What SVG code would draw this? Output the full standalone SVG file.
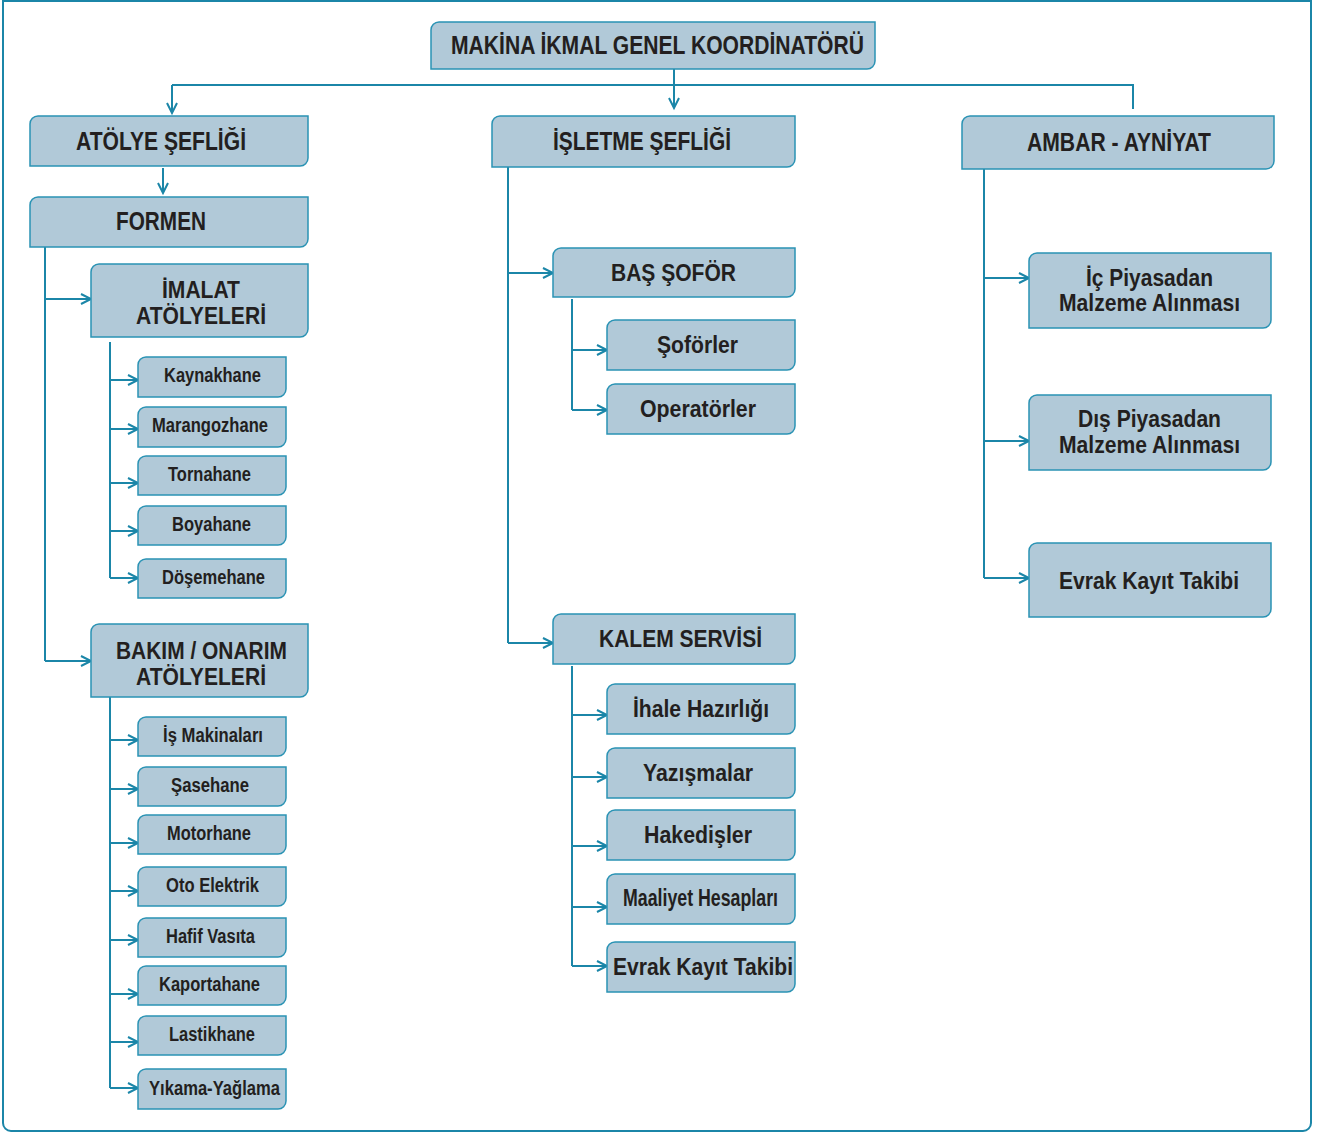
<svg xmlns="http://www.w3.org/2000/svg" width="1326" height="1133" viewBox="0 0 1326 1133">
<defs>
<style>
.box{fill:#b1c9d8;stroke:#2a93b4;stroke-width:1.5}
.ln{fill:none;stroke:#1b86a8;stroke-width:2}
.arr{marker-end:url(#ah)}
text{font-family:"Liberation Sans Narrow","Arial Narrow","Liberation Sans",sans-serif;font-weight:bold;fill:#231f20}
.t1{font-size:25px}
.t2{font-size:24px}
.t3{font-size:20px}
</style>
<marker id="ah" markerUnits="userSpaceOnUse" markerWidth="14" markerHeight="12" refX="11" refY="6" orient="auto">
<path d="M1,1 L11,6 L1,11" fill="none" stroke="#1b86a8" stroke-width="2"/>
</marker>
</defs>
<rect x="0" y="0" width="1326" height="1133" fill="#fff"/>
<path d="M3,1 H1311 V1123 A8,8 0 0 1 1303,1131 H11 A8,8 0 0 1 3,1123 Z" fill="none" stroke="#1b86a8" stroke-width="2"/>

<g id="connectors">
<path class="ln" d="M172,85 H1133 V109"/>
<path class="ln arr" d="M172,85 V113"/>
<path class="ln arr" d="M674,69 V108"/>
<path class="ln arr" d="M163,168 V193"/>
<path class="ln" d="M45,247 V661"/>
<path class="ln arr" d="M45,299 H91"/>
<path class="ln arr" d="M45,661 H91"/>
<path class="ln" d="M110,342 V578"/>
<path class="ln arr" d="M110,380 H138"/>
<path class="ln arr" d="M110,429 H138"/>
<path class="ln arr" d="M110,483 H138"/>
<path class="ln arr" d="M110,531 H138"/>
<path class="ln arr" d="M110,578 H138"/>
<path class="ln" d="M110,697 V1088"/>
<path class="ln arr" d="M110,740 H138"/>
<path class="ln arr" d="M110,789 H138"/>
<path class="ln arr" d="M110,843 H138"/>
<path class="ln arr" d="M110,891 H138"/>
<path class="ln arr" d="M110,940 H138"/>
<path class="ln arr" d="M110,994 H138"/>
<path class="ln arr" d="M110,1042 H138"/>
<path class="ln arr" d="M110,1088 H138"/>
<path class="ln" d="M508,167 V643"/>
<path class="ln arr" d="M508,273 H553"/>
<path class="ln arr" d="M508,643 H553"/>
<path class="ln" d="M572,299 V410"/>
<path class="ln arr" d="M572,350 H607"/>
<path class="ln arr" d="M572,410 H607"/>
<path class="ln" d="M572,666 V966"/>
<path class="ln arr" d="M572,715 H607"/>
<path class="ln arr" d="M572,777 H607"/>
<path class="ln arr" d="M572,846 H607"/>
<path class="ln arr" d="M572,907 H607"/>
<path class="ln arr" d="M572,966 H607"/>
<path class="ln" d="M984,169 V578"/>
<path class="ln arr" d="M984,278 H1029"/>
<path class="ln arr" d="M984,441 H1029"/>
<path class="ln arr" d="M984,578 H1029"/>
</g>

<g id="n-top"><path class="box" d="M431,30 A8,8 0 0 1 439,22 H875 V61 A8,8 0 0 1 867,69 H431 Z"/><text class="t1" x="451" y="54" textLength="413" lengthAdjust="spacingAndGlyphs">MAKİNA İKMAL GENEL KOORDİNATÖRÜ</text></g>

<g id="n-atolye"><path class="box" d="M30,124 A8,8 0 0 1 38,116 H308 V158 A8,8 0 0 1 300,166 H30 Z"/><text class="t1" x="76" y="150" textLength="170" lengthAdjust="spacingAndGlyphs">ATÖLYE ŞEFLİĞİ</text></g>
<g id="n-formen"><path class="box" d="M30,205 A8,8 0 0 1 38,197 H308 V239 A8,8 0 0 1 300,247 H30 Z"/><text class="t1" x="116" y="230" textLength="90" lengthAdjust="spacingAndGlyphs">FORMEN</text></g>
<g id="n-imalat"><path class="box" d="M91,272 A8,8 0 0 1 99,264 H308 V329 A8,8 0 0 1 300,337 H91 Z"/><text class="t2" x="162" y="298" textLength="78" lengthAdjust="spacingAndGlyphs">İMALAT</text><text class="t2" x="136" y="324" textLength="130" lengthAdjust="spacingAndGlyphs">ATÖLYELERİ</text></g>

<g id="n-kaynakhane"><path class="box" d="M138,365 A8,8 0 0 1 146,357 H286 V389 A8,8 0 0 1 278,397 H138 Z"/><text class="t3" x="164" y="382" textLength="97" lengthAdjust="spacingAndGlyphs">Kaynakhane</text></g>
<g id="n-marangozhane"><path class="box" d="M138,415 A8,8 0 0 1 146,407 H286 V439 A8,8 0 0 1 278,447 H138 Z"/><text class="t3" x="152" y="432" textLength="116" lengthAdjust="spacingAndGlyphs">Marangozhane</text></g>
<g id="n-tornahane"><path class="box" d="M138,464 A8,8 0 0 1 146,456 H286 V487 A8,8 0 0 1 278,495 H138 Z"/><text class="t3" x="168" y="481" textLength="83" lengthAdjust="spacingAndGlyphs">Tornahane</text></g>
<g id="n-boyahane"><path class="box" d="M138,514 A8,8 0 0 1 146,506 H286 V537 A8,8 0 0 1 278,545 H138 Z"/><text class="t3" x="172" y="531" textLength="79" lengthAdjust="spacingAndGlyphs">Boyahane</text></g>
<g id="n-dosemehane"><path class="box" d="M138,567 A8,8 0 0 1 146,559 H286 V590 A8,8 0 0 1 278,598 H138 Z"/><text class="t3" x="162" y="584" textLength="103" lengthAdjust="spacingAndGlyphs">Döşemehane</text></g>

<g id="n-bakim"><path class="box" d="M91,632 A8,8 0 0 1 99,624 H308 V689 A8,8 0 0 1 300,697 H91 Z"/><text class="t2" x="116" y="659" textLength="171" lengthAdjust="spacingAndGlyphs">BAKIM / ONARIM</text><text class="t2" x="136" y="685" textLength="130" lengthAdjust="spacingAndGlyphs">ATÖLYELERİ</text></g>

<g id="n-ismakinalari"><path class="box" d="M138,725 A8,8 0 0 1 146,717 H286 V748 A8,8 0 0 1 278,756 H138 Z"/><text class="t3" x="163" y="742" textLength="100" lengthAdjust="spacingAndGlyphs">İş Makinaları</text></g>
<g id="n-sasehane"><path class="box" d="M138,775 A8,8 0 0 1 146,767 H286 V798 A8,8 0 0 1 278,806 H138 Z"/><text class="t3" x="171" y="792" textLength="78" lengthAdjust="spacingAndGlyphs">Şasehane</text></g>
<g id="n-motorhane"><path class="box" d="M138,823 A8,8 0 0 1 146,815 H286 V846 A8,8 0 0 1 278,854 H138 Z"/><text class="t3" x="167" y="840" textLength="84" lengthAdjust="spacingAndGlyphs">Motorhane</text></g>
<g id="n-otoelektrik"><path class="box" d="M138,875 A8,8 0 0 1 146,867 H286 V898 A8,8 0 0 1 278,906 H138 Z"/><text class="t3" x="166" y="892" textLength="93" lengthAdjust="spacingAndGlyphs">Oto Elektrik</text></g>
<g id="n-hafifvasita"><path class="box" d="M138,926 A8,8 0 0 1 146,918 H286 V949 A8,8 0 0 1 278,957 H138 Z"/><text class="t3" x="166" y="943" textLength="89" lengthAdjust="spacingAndGlyphs">Hafif Vasıta</text></g>
<g id="n-kaportahane"><path class="box" d="M138,974 A8,8 0 0 1 146,966 H286 V997 A8,8 0 0 1 278,1005 H138 Z"/><text class="t3" x="159" y="991" textLength="101" lengthAdjust="spacingAndGlyphs">Kaportahane</text></g>
<g id="n-lastikhane"><path class="box" d="M138,1024 A8,8 0 0 1 146,1016 H286 V1047 A8,8 0 0 1 278,1055 H138 Z"/><text class="t3" x="169" y="1041" textLength="86" lengthAdjust="spacingAndGlyphs">Lastikhane</text></g>
<g id="n-yikama"><path class="box" d="M138,1077 A8,8 0 0 1 146,1069 H286 V1101 A8,8 0 0 1 278,1109 H138 Z"/><text class="t3" x="149" y="1095" textLength="131" lengthAdjust="spacingAndGlyphs">Yıkama-Yağlama</text></g>

<g id="n-isletme"><path class="box" d="M492,124 A8,8 0 0 1 500,116 H795 V159 A8,8 0 0 1 787,167 H492 Z"/><text class="t1" x="553" y="150" textLength="178" lengthAdjust="spacingAndGlyphs">İŞLETME ŞEFLİĞİ</text></g>
<g id="n-bassofor"><path class="box" d="M553,256 A8,8 0 0 1 561,248 H795 V289 A8,8 0 0 1 787,297 H553 Z"/><text class="t2" x="611" y="281" textLength="125" lengthAdjust="spacingAndGlyphs">BAŞ ŞOFÖR</text></g>
<g id="n-soforler"><path class="box" d="M607,328 A8,8 0 0 1 615,320 H795 V362 A8,8 0 0 1 787,370 H607 Z"/><text class="t2" x="657" y="353" textLength="81" lengthAdjust="spacingAndGlyphs">Şoförler</text></g>
<g id="n-operatorler"><path class="box" d="M607,392 A8,8 0 0 1 615,384 H795 V426 A8,8 0 0 1 787,434 H607 Z"/><text class="t2" x="640" y="417" textLength="116" lengthAdjust="spacingAndGlyphs">Operatörler</text></g>
<g id="n-kalem"><path class="box" d="M553,622 A8,8 0 0 1 561,614 H795 V656 A8,8 0 0 1 787,664 H553 Z"/><text class="t2" x="599" y="647" textLength="163" lengthAdjust="spacingAndGlyphs">KALEM SERVİSİ</text></g>
<g id="n-ihale"><path class="box" d="M607,692 A8,8 0 0 1 615,684 H795 V726 A8,8 0 0 1 787,734 H607 Z"/><text class="t2" x="633" y="717" textLength="136" lengthAdjust="spacingAndGlyphs">İhale Hazırlığı</text></g>
<g id="n-yazismalar"><path class="box" d="M607,756 A8,8 0 0 1 615,748 H795 V790 A8,8 0 0 1 787,798 H607 Z"/><text class="t2" x="643" y="781" textLength="110" lengthAdjust="spacingAndGlyphs">Yazışmalar</text></g>
<g id="n-hakedisler"><path class="box" d="M607,818 A8,8 0 0 1 615,810 H795 V852 A8,8 0 0 1 787,860 H607 Z"/><text class="t2" x="644" y="843" textLength="108" lengthAdjust="spacingAndGlyphs">Hakedişler</text></g>
<g id="n-maaliyet"><path class="box" d="M607,882 A8,8 0 0 1 615,874 H795 V916 A8,8 0 0 1 787,924 H607 Z"/><text class="t2" x="623" y="906" textLength="155" lengthAdjust="spacingAndGlyphs">Maaliyet Hesapları</text></g>
<g id="n-evrak1"><path class="box" d="M607,950 A8,8 0 0 1 615,942 H795 V984 A8,8 0 0 1 787,992 H607 Z"/><text class="t2" x="613" y="975" textLength="180" lengthAdjust="spacingAndGlyphs">Evrak Kayıt Takibi</text></g>

<g id="n-ambar"><path class="box" d="M962,124 A8,8 0 0 1 970,116 H1274 V161 A8,8 0 0 1 1266,169 H962 Z"/><text class="t1" x="1027" y="151" textLength="184" lengthAdjust="spacingAndGlyphs">AMBAR - AYNİYAT</text></g>
<g id="n-icpiyasa"><path class="box" d="M1029,261 A8,8 0 0 1 1037,253 H1271 V320 A8,8 0 0 1 1263,328 H1029 Z"/><text class="t2" x="1086" y="286" textLength="127" lengthAdjust="spacingAndGlyphs">İç Piyasadan</text><text class="t2" x="1059" y="311" textLength="181" lengthAdjust="spacingAndGlyphs">Malzeme Alınması</text></g>
<g id="n-dispiyasa"><path class="box" d="M1029,403 A8,8 0 0 1 1037,395 H1271 V462 A8,8 0 0 1 1263,470 H1029 Z"/><text class="t2" x="1078" y="427" textLength="143" lengthAdjust="spacingAndGlyphs">Dış Piyasadan</text><text class="t2" x="1059" y="453" textLength="181" lengthAdjust="spacingAndGlyphs">Malzeme Alınması</text></g>
<g id="n-evrak2"><path class="box" d="M1029,551 A8,8 0 0 1 1037,543 H1271 V609 A8,8 0 0 1 1263,617 H1029 Z"/><text class="t2" x="1059" y="589" textLength="180" lengthAdjust="spacingAndGlyphs">Evrak Kayıt Takibi</text></g>
</svg>
